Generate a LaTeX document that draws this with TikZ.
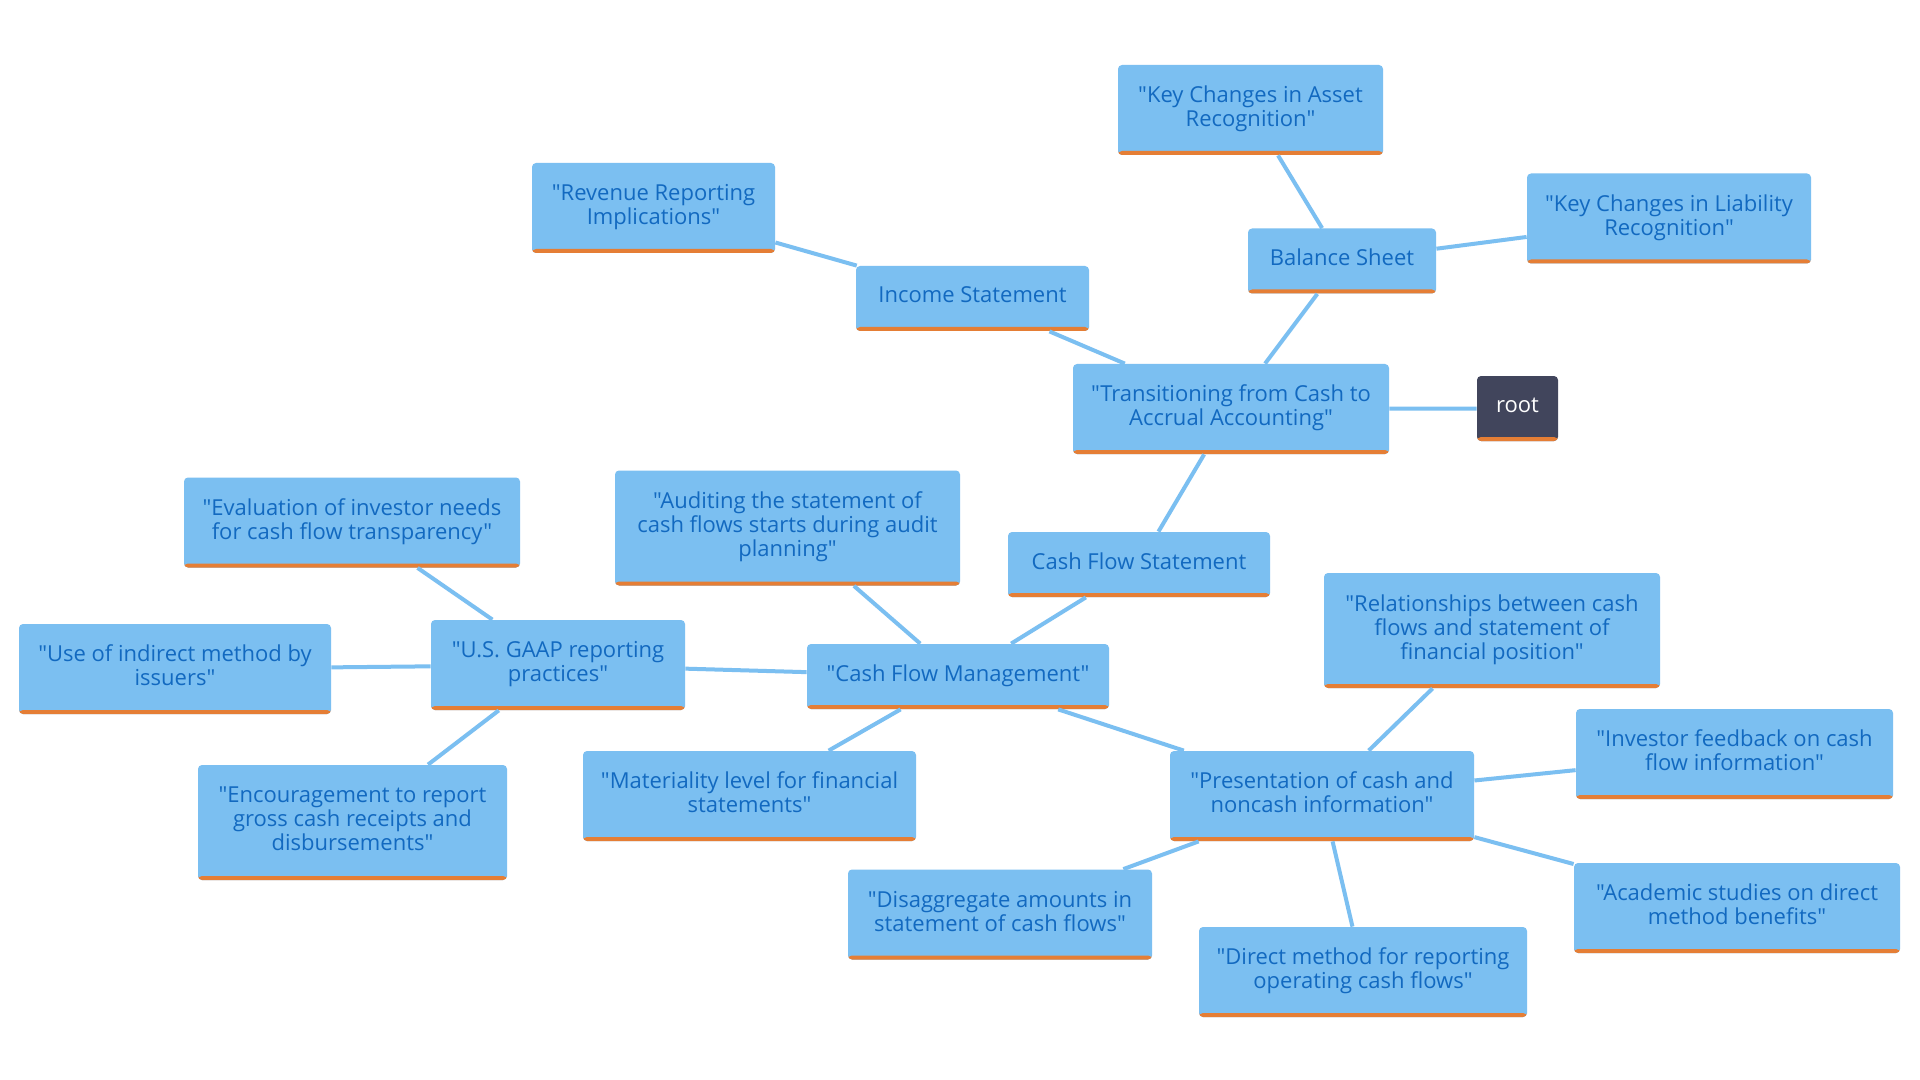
\documentclass[tikz,border=0pt]{standalone}
\usepackage{fontspec}
\setmainfont{Open Sans}[Ligatures=TeXOff]

\definecolor{boxblue}{RGB}{123,191,241}
\definecolor{textblue}{RGB}{18,105,192}
\definecolor{barorange}{RGB}{229,126,53}
\definecolor{rootgray}{RGB}{65,69,92}

\tikzstyle{topic} = [rectangle, rounded corners=2pt, fill=boxblue, text=textblue, align=center, inner sep=0pt, text depth=3.5pt, font=\fontsize{11}{12}\selectfont, path picture={\fill[barorange] (path picture bounding box.south west) rectangle ([yshift=2pt]path picture bounding box.south east);}]
\tikzstyle{rootbox} = [topic, fill=rootgray, text=white]
\tikzstyle{lineone} = [minimum height=32.5pt]
\tikzstyle{linetwo} = [minimum height=45pt]
\tikzstyle{linethree} = [minimum height=57.5pt]
\tikzstyle{link} = [draw=boxblue, line width=2pt]

\begin{document}
\begin{tikzpicture}[x=0.5pt, y=-0.5pt]
\useasboundingbox[fill=white] (0,0) rectangle (1920,1080);

\node[rootbox, lineone, minimum width=40.5pt] (root) at (1517.5,408.5) {root};
\node[topic, linetwo, minimum width=158pt] (trans) at (1231,409) {"Transitioning from Cash to\\Accrual Accounting"};
\node[topic, lineone, minimum width=94pt] (balance) at (1342,261) {Balance Sheet};
\node[topic, linetwo, minimum width=132.5pt] (asset) at (1250.5,110) {"Key Changes in Asset\\Recognition"};
\node[topic, linetwo, minimum width=142pt] (liability) at (1669,218.5) {"Key Changes in Liability\\Recognition"};
\node[topic, lineone, minimum width=116.5pt] (income) at (972.5,298.5) {Income Statement};
\node[topic, linetwo, minimum width=121.5pt] (revenue) at (653.5,208) {"Revenue Reporting\\Implications"};
\node[topic, lineone, minimum width=131pt] (cfs) at (1139,564.5) {Cash Flow Statement};
\node[topic, lineone, minimum width=151pt] (cfm) at (958,676.5) {"Cash Flow Management"};
\node[topic, linethree, minimum width=172.5pt] (auditing) at (787.5,528) {"Auditing the statement of\\cash flows starts during audit\\planning"};
\node[topic, linetwo, minimum width=127pt] (gaap) at (558,665) {"U.S. GAAP reporting\\practices"};
\node[topic, linetwo, minimum width=168pt] (evaluation) at (352,522.5) {"Evaluation of investor needs\\for cash flow transparency"};
\node[topic, linetwo, minimum width=156pt] (indirect) at (175,669) {"Use of indirect method by\\issuers"};
\node[topic, linethree, minimum width=154.5pt] (encourage) at (352.5,822.5) {"Encouragement to report\\gross cash receipts and\\disbursements"};
\node[topic, linetwo, minimum width=166.5pt] (materiality) at (749.5,796) {"Materiality level for financial\\statements"};
\node[topic, linetwo, minimum width=152pt] (presentation) at (1322,796) {"Presentation of cash and\\noncash information"};
\node[topic, linethree, minimum width=168pt] (relations) at (1492,630.5) {"Relationships between cash\\flows and statement of\\financial position"};
\node[topic, linetwo, minimum width=158.5pt] (feedback) at (1734.5,754) {"Investor feedback on cash\\flow information"};
\node[topic, linetwo, minimum width=163pt] (academic) at (1737,908) {"Academic studies on direct\\method benefits"};
\node[topic, linetwo, minimum width=164pt] (direct) at (1363,972) {"Direct method for reporting\\operating cash flows"};
\node[topic, linetwo, minimum width=152pt] (disaggregate) at (1000,914.5) {"Disaggregate amounts in\\statement of cash flows"};

\draw[link] (root) -- (trans);
\draw[link] (trans) -- (balance);
\draw[link] (trans) -- (income);
\draw[link] (trans) -- (cfs);
\draw[link] (balance) -- (asset);
\draw[link] (balance) -- (liability);
\draw[link] (income) -- (revenue);
\draw[link] (cfs) -- (cfm);
\draw[link] (cfm) -- (auditing);
\draw[link] (cfm) -- (gaap);
\draw[link] (cfm) -- (materiality);
\draw[link] (cfm) -- (presentation);
\draw[link] (gaap) -- (evaluation);
\draw[link] (gaap) -- (indirect);
\draw[link] (gaap) -- (encourage);
\draw[link] (presentation) -- (relations);
\draw[link] (presentation) -- (feedback);
\draw[link] (presentation) -- (academic);
\draw[link] (presentation) -- (direct);
\draw[link] (presentation) -- (disaggregate);
\end{tikzpicture}
\end{document}
